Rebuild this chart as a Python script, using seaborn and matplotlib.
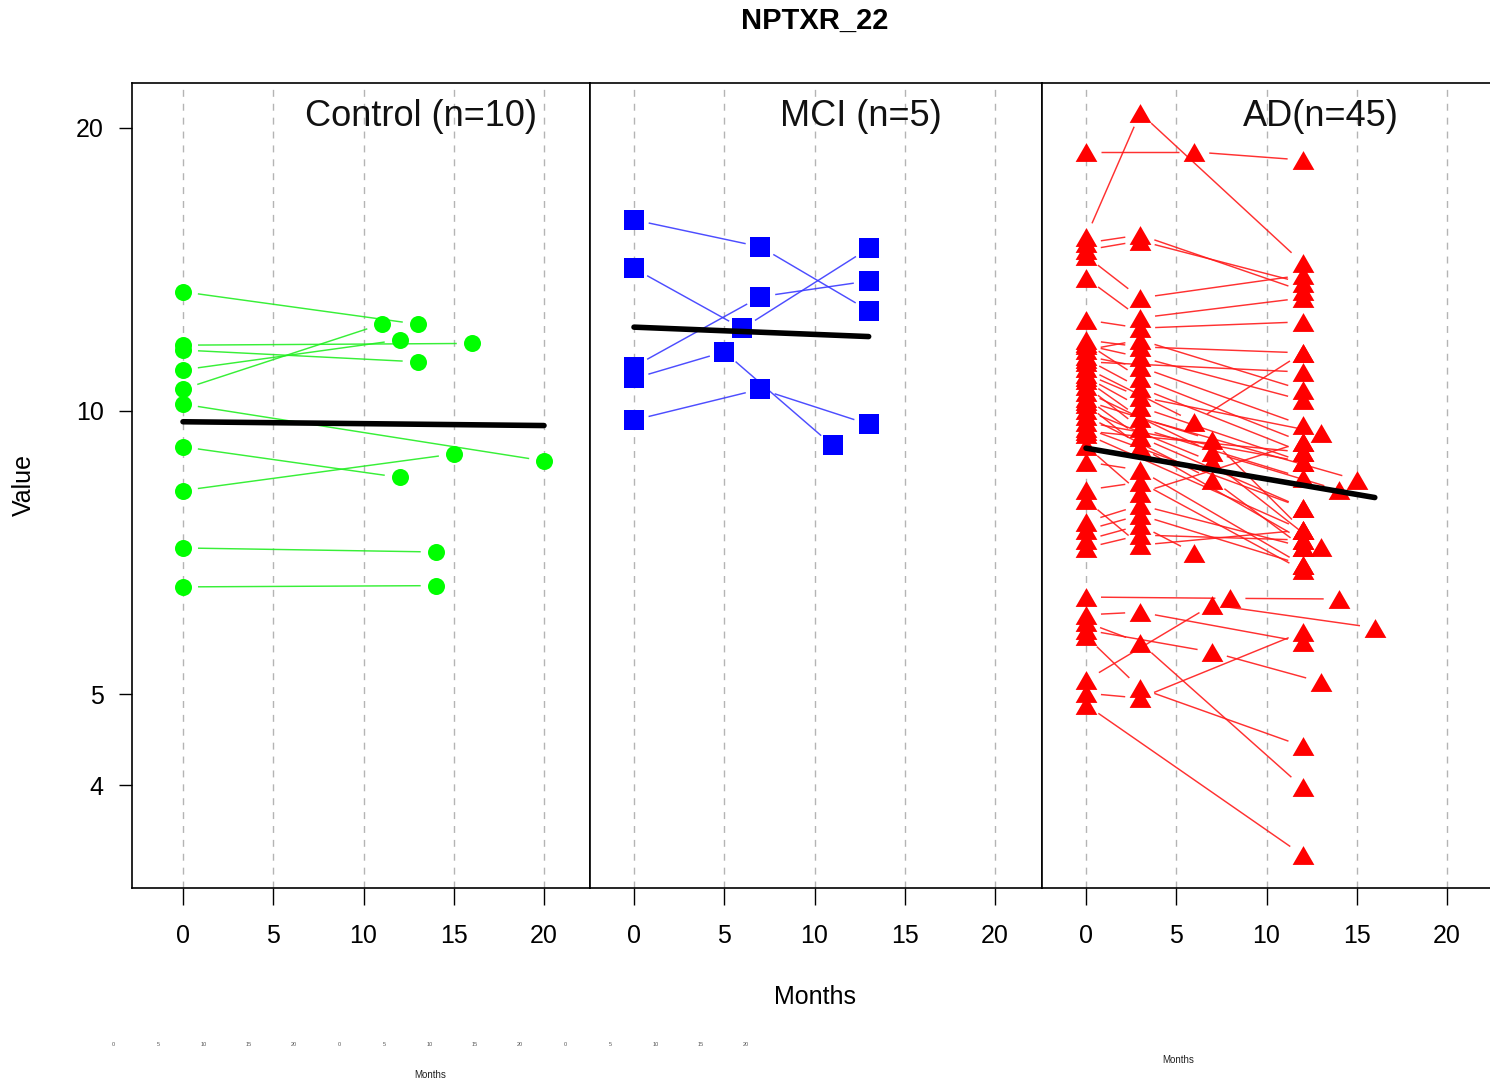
import numpy as np
import pandas as pd
import matplotlib
matplotlib.use("Agg")
import matplotlib.pyplot as plt
import seaborn as sns
from matplotlib.path import Path
from matplotlib.ticker import FixedLocator, FixedFormatter, NullLocator

# ---------------- data ----------------
title = "NPTXR_22"
group_labels = ["Control (n=10)", "MCI (n=5)", "AD(n=45)"]
x_ticks = [0, 5, 10, 15, 20]
y_ticks = [4, 5, 10, 20]

control_months = [[0, 13], [0, 16], [0, 13], [0, 12], [0, 11],
                  [0, 20], [0, 12], [0, 15], [0, 14], [0, 14]]
control_values = [[13.39, 12.37], [11.75, 11.80], [11.61, 11.28], [11.06, 11.90], [10.55, 12.37],
                  [10.17, 8.85], [9.16, 8.50], [8.23, 9.00], [7.15, 7.08], [6.50, 6.52]]

mci_months = [[0, 7, 13], [0, 6, 13], [0, 7, 13], [0, 5, 11], [0, 7, 13]]
mci_values = [[15.97, 14.95, 12.79], [14.18, 12.24, 14.89], [11.15, 13.23, 13.75],
              [10.83, 11.56, 9.19], [9.78, 10.55, 9.68]]

ad_months = [
    [0, 6, 12], [0, 3, 12], [0, 3, 12], [0, 3, 12], [0, 3, 12],
    [0, 3, 12], [0, 3, 12], [0, 3, 12], [0, 3, 12], [0, 3, 12],
    [0, 3, 12], [0, 12], [0, 6, 12], [0, 3, 12], [0, 3, 12],
    [0, 3, 13], [0, 3, 12], [0, 3, 15], [0, 3, 12], [0, 7, 14],
    [0, 3, 12], [0, 7, 12], [0, 3, 12], [0, 7, 13], [0, 7, 12],
    [0, 12], [0, 12], [0, 12], [0, 12], [0, 3, 12],
    [0, 3, 12], [0, 3, 12], [0, 3, 12], [0, 3, 12], [0, 3, 12],
    [0, 3, 12], [0, 3, 6], [0, 3, 12], [0, 8, 14], [0, 7, 16],
    [0, 3, 12], [0, 3, 12], [0, 7, 13], [0, 3, 12], [0, 12]]
ad_values = [
    [18.86, 18.86, 18.49], [15.31, 20.75, 14.37], [14.83, 15.17, 13.68], [15.09, 15.39, 13.42], [14.62, 13.19, 13.95],
    [13.85, 12.56, 13.19], [12.50, 12.25, 12.44], [11.90, 11.70, 11.53], [11.75, 11.41, 10.27], [11.61, 11.90, 10.53],
    [11.44, 11.14, 9.66], [11.28, 11.00], [11.11, 9.73, 11.53], [11.81, 10.84, 9.27], [11.36, 10.58, 9.04],
    [10.95, 10.35, 9.48], [10.87, 10.10, 8.83], [10.79, 9.83, 8.45], [10.63, 9.59, 8.49], [10.48, 9.04, 8.24],
    [10.32, 9.38, 7.89], [10.25, 9.31, 7.47], [10.17, 9.16, 7.29], [10.02, 8.83, 7.17], [9.88, 8.45, 7.17],
    [9.73, 8.83], [9.59, 7.89], [9.52, 9.04], [9.45, 7.47], [5.76, 5.07, 4.40],
    [9.18, 8.18, 9.27], [8.83, 8.65, 6.86], [8.24, 8.40, 6.77], [8.04, 7.20, 7.47], [7.62, 7.94, 7.17],
    [7.47, 7.75, 6.86], [7.29, 7.56, 7.06], [7.15, 7.38, 7.29], [6.34, 6.32, 6.31], [5.17, 6.22, 5.88],
    [6.07, 6.11, 5.68], [5.96, 5.67, 3.98], [5.85, 5.54, 5.15], [5.01, 4.95, 5.82], [4.87, 3.37]]

fit_months = [[0, 20], [0, 13], [0, 16]]
fit_values = [[9.74, 9.65], [12.28, 12.00], [9.13, 8.09]]

tiny_tick_labels = ["0", "5", "10", "15", "20"] * 3

# ---------------- style ----------------
sns.set_theme(style="white")
plt.rcParams['font.family'] = ['Liberation Sans', 'DejaVu Sans']
plt.rcParams['text.color'] = 'black'
plt.rcParams['axes.labelcolor'] = 'black'

W, H = 1490, 1084
fig = plt.figure(figsize=(W / 100, H / 100), dpi=100)

ax_top_px, ax_bot_px = 83, 888
panel_px = [(132, 590), (590, 1042), (1042, 1494)]
zero_px = [183, 634, 1086]
px_per_month = 18.05
ylim = (3.109, 22.33)

tri = Path([(0, 0.866), (-1, -0.866), (1, -0.866), (0, 0.866)],
           [Path.MOVETO, Path.LINETO, Path.LINETO, Path.CLOSEPOLY])

groups = [
    dict(months=control_months, values=control_values, color="#00ff00", line="#22ee22",
         marker="o", s=150),
    dict(months=mci_months, values=mci_values, color="#0000ff", line="#3a3aff",
         marker="s", s=205),
    dict(months=ad_months, values=ad_values, color="#ff0000", line="#ff1a1a",
         marker=tri, s=245),
]


def draw_gapped(ax, months, values, color, gap=15.0):
    pts = ax.transData.transform(np.column_stack([months, values]))
    inv = ax.transData.inverted()
    for p, q in zip(pts[:-1], pts[1:]):
        d = q - p
        L = np.hypot(d[0], d[1])
        if L <= 2 * gap:
            continue
        u = d / L
        seg = inv.transform(np.vstack([p + u * gap, q - u * gap]))
        ax.plot(seg[:, 0], seg[:, 1], color=color, lw=1.05, alpha=0.9, zorder=2,
                solid_capstyle='butt')


for i, g in enumerate(groups):
    l_px, r_px = panel_px[i]
    ax = fig.add_axes([l_px / W, 1 - ax_bot_px / H, (r_px - l_px) / W,
                       (ax_bot_px - ax_top_px) / H])
    ax.set_yscale('log')
    xlim = ((l_px - zero_px[i]) / px_per_month, (r_px - zero_px[i]) / px_per_month)
    ax.set_xlim(*xlim)
    ax.set_ylim(*ylim)
    ax.autoscale(False)

    rows = []
    for sid, (ms, vs) in enumerate(zip(g["months"], g["values"])):
        for m, v in zip(ms, vs):
            rows.append((sid, m, v))
    df = pd.DataFrame(rows, columns=["subject", "month", "value"])

    for ms, vs in zip(g["months"], g["values"]):
        draw_gapped(ax, ms, vs, g["line"])

    sns.scatterplot(data=df, x="month", y="value", ax=ax, marker=g["marker"],
                    color=g["color"], s=g["s"], linewidth=0, edgecolor=g["color"],
                    legend=False, zorder=3)

    fit_df = pd.DataFrame({"month": fit_months[i], "value": fit_values[i]})
    sns.lineplot(data=fit_df, x="month", y="value", ax=ax, color="black", lw=4.0,
                 estimator=None, sort=False, zorder=4, solid_capstyle='round')

    ax.set_xlim(*xlim)
    ax.set_ylim(*ylim)
    ax.set_xlabel("")
    ax.set_ylabel("")

    ax.xaxis.set_major_locator(FixedLocator(x_ticks))
    ax.xaxis.set_major_formatter(FixedFormatter([str(t) for t in x_ticks]))
    ax.xaxis.set_minor_locator(NullLocator())
    ax.yaxis.set_major_locator(FixedLocator(y_ticks))
    ax.yaxis.set_major_formatter(FixedFormatter([str(t) for t in y_ticks]))
    ax.yaxis.set_minor_locator(NullLocator())

    ax.grid(False)
    ax.grid(axis='x', which='major', color='#b4b4b4', lw=1.0, linestyle=(0, (5, 5)))
    ax.set_axisbelow(True)

    ax.tick_params(axis='x', which='major', direction='out', length=12, width=1.0,
                   pad=14, labelsize=18, bottom=True, colors='black')
    if i == 0:
        ax.tick_params(axis='y', which='major', direction='out', length=9.5, width=1.0,
                       pad=11, labelsize=18, left=True, colors='black')
    else:
        ax.tick_params(axis='y', which='both', left=False, labelleft=False)

    for sp in ax.spines.values():
        sp.set_color('black')
        sp.set_linewidth(1.2)

# ---------------- texts ----------------
fig.text(815 / W, 1 - 21 / H, title, ha='center', va='center', fontsize=21,
         fontweight='bold', color='black')
label_centers = [421, 861, 1321]
for cx, lab in zip(label_centers, group_labels):
    fig.text(cx / W, 1 - 116 / H, lab, ha='center', va='center', fontsize=26,
             color='#111111')
fig.text(815 / W, 1 - 997 / H, "Months", ha='center', va='center', fontsize=18,
         color='black')
fig.text(24 / W, 1 - 485 / H, "Value", ha='center', va='center', fontsize=18,
         rotation=90, color='black')

# faint leftover small texts at the bottom
for k, lab in enumerate(tiny_tick_labels):
    fig.text((113 + k * 45.2) / W, 1 - 1045 / H, lab, ha='center', va='center',
             fontsize=4, color='#555555')
fig.text(430 / W, 1 - 1075 / H, "Months", ha='center', va='center', fontsize=7,
         color='#222222')
fig.text(1178 / W, 1 - 1060 / H, "Months", ha='center', va='center', fontsize=7,
         color='#222222')

fig.savefig("out.png", dpi=100)
